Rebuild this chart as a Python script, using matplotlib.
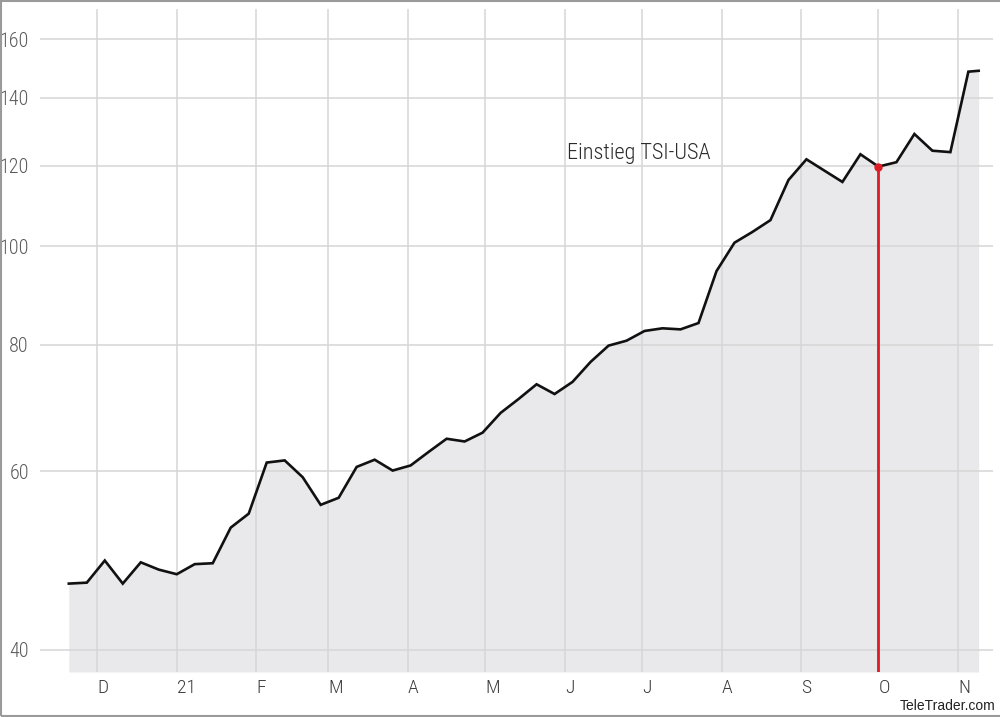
import matplotlib
matplotlib.use("Agg")
import matplotlib.pyplot as plt
import matplotlib.dates as mdates
from matplotlib import font_manager
from matplotlib.ticker import FixedLocator, NullLocator, FixedFormatter
import pandas as pd

# ---------------------------------------------------------------------------
# Data (weekly closes)
# ---------------------------------------------------------------------------
dates = list(pd.date_range("2020-11-20", periods=51, freq="7D")) + [pd.Timestamp("2021-11-09")]
values = [
    46.5, 46.6, 49.0, 46.5, 48.8, 48.0, 47.5, 48.6, 48.7, 52.8,
    54.5, 61.2, 61.5, 59.2, 55.6, 56.5, 60.6, 61.6, 60.1, 60.8,
    62.7, 64.6, 64.2, 65.5, 68.5, 70.7, 73.1, 71.5, 73.5, 76.9,
    79.8, 80.7, 82.5, 83.0, 82.8, 84.0, 94.5, 100.8, 103.3, 106.1,
    116.2, 121.8, 118.7, 115.7, 123.2, 119.8, 121.0, 129.0, 124.2, 123.8,
    148.6, 148.9,
]
entry_date = pd.Timestamp("2021-10-01")
entry_label = "Einstieg TSI-USA"

month_starts = pd.date_range("2020-12-01", "2021-11-01", freq="MS")
month_labels = ["D", "21", "F", "M", "A", "M", "J", "J", "A", "S", "O", "N"]
y_ticks = [40, 60, 80, 100, 120, 140, 160]


def _pick_font():
    names = {f.name for f in font_manager.fontManager.ttflist}
    for cand in ["Roboto Condensed", "Liberation Sans Narrow", "DejaVu Sans Condensed"]:
        if cand in names:
            return cand, "normal"
    return "DejaVu Sans", "condensed"


font, stretch = _pick_font()
plt.rcParams.update({"font.family": font, "font.stretch": stretch})

fig = plt.figure(figsize=(10, 7.17), dpi=100)
ax = fig.add_axes([0.040, 0.0628, 0.953, 0.9246])

bottom = 38.05
ax.set_yscale("log")
ax.set_ylim(bottom, 171.3)
ax.set_xlim(mdates.date2num(pd.Timestamp("2020-11-08 19:00")),
            mdates.date2num(pd.Timestamp("2021-11-14 14:00")))

x = mdates.date2num(dates)
ax.fill_between(x, values, bottom, color="#e9e9eb", lw=0, zorder=1)
ax.plot(x, values, color="#111111", lw=1.9, zorder=3, solid_joinstyle="miter")

# entry marker
ex = mdates.date2num(entry_date)
ev = values[dates.index(entry_date)]
ax.plot([ex, ex], [bottom, ev], color="#dc1c26", lw=2.0, zorder=4, solid_capstyle="butt")
ax.plot([ex], [ev], "o", color="#dc1c26", ms=5, zorder=5)
ax.text(mdates.date2num(pd.Timestamp("2021-06-02")), 123.5, entry_label,
        fontsize=16, color="#2a2a2a", va="center", ha="left", zorder=6, weight="light")

# grid
ax.yaxis.set_major_locator(FixedLocator(y_ticks))
ax.yaxis.set_minor_locator(NullLocator())
ax.yaxis.set_major_formatter(FixedFormatter([str(t) for t in y_ticks]))
ax.xaxis.set_major_locator(FixedLocator(mdates.date2num(month_starts)))
ax.xaxis.set_major_formatter(FixedFormatter(month_labels))
ax.grid(True, color="#d6d6d6", lw=1.1, zorder=2)
for line in ax.get_xgridlines() + ax.get_ygridlines():
    line.set_zorder(2)

for s in ax.spines.values():
    s.set_visible(False)
ax.tick_params(length=0)
ax.tick_params(axis="y", labelsize=14.5, labelcolor="#5a5a5a", pad=8)
ax.tick_params(axis="x", labelsize=14, labelcolor="#3a3a3a", pad=5)
for lbl in ax.get_yticklabels() + ax.get_xticklabels():
    lbl.set_fontweight("light")
for lbl in ax.get_xticklabels():
    lbl.set_horizontalalignment("left")

fig.text(0.995, 0.005, "TeleTrader.com", fontsize=10, family="Liberation Sans",
         color="#222222", ha="right", va="bottom", stretch="normal")

# frame around the picture
fig.patches.append(plt.Rectangle((0.001, 0.002), 1.2, 0.996, transform=fig.transFigure,
                                 fill=False, edgecolor="#9a9a9a", lw=1.5))

fig.savefig("out.png", dpi=100)
